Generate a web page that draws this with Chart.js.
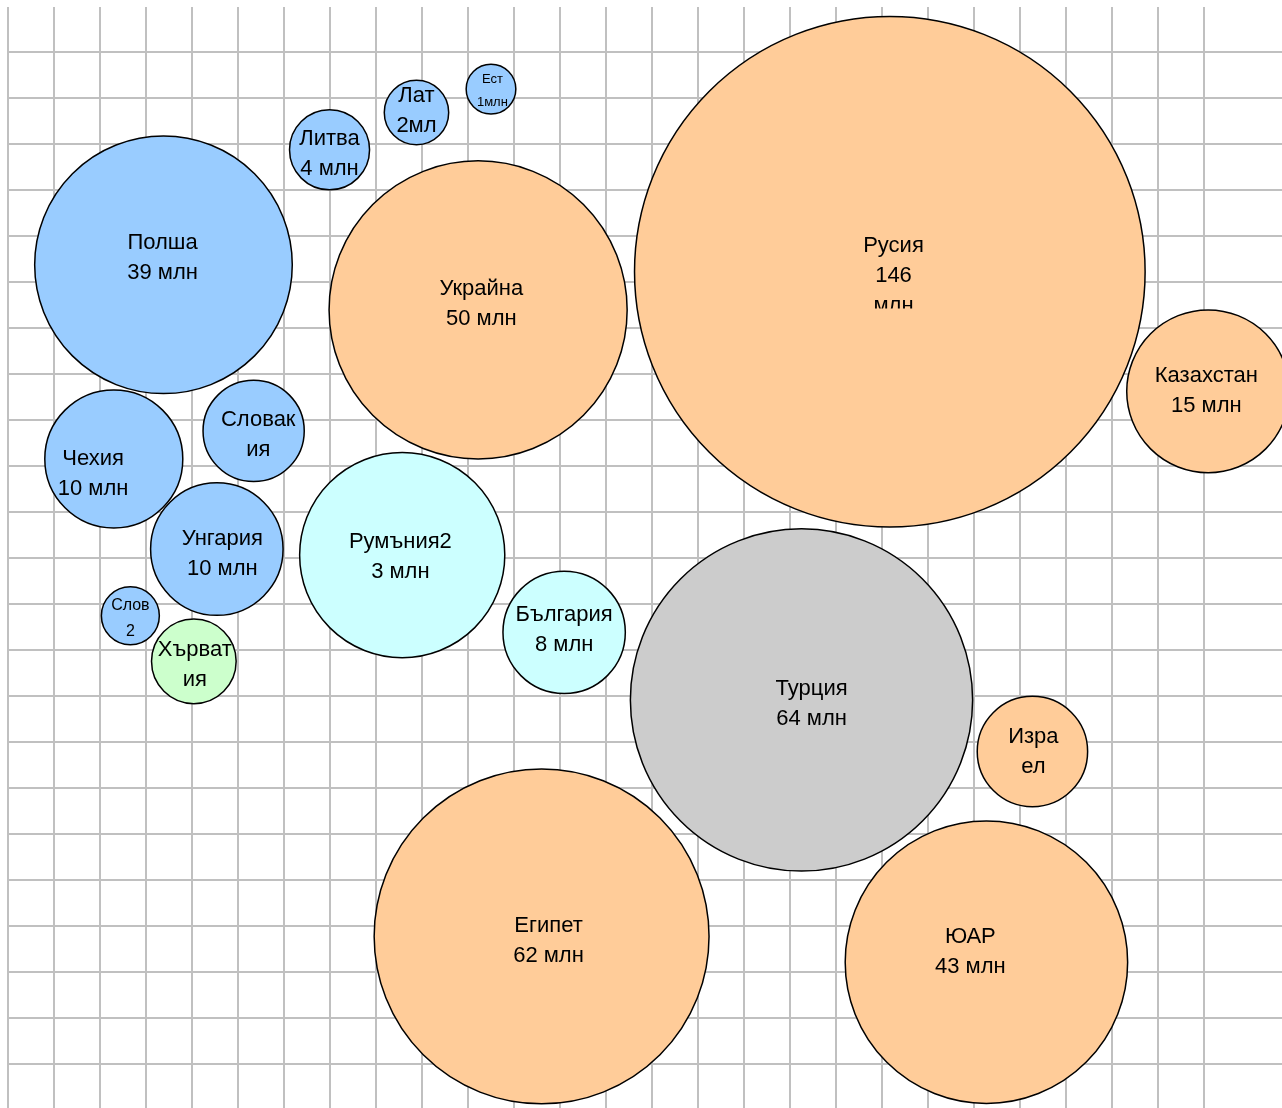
<!DOCTYPE html>
<html lang="bg">
<head>
<meta charset="utf-8">
<title>Население</title>
<script src="https://cdn.jsdelivr.net/npm/chart.js@4.4.1/dist/chart.umd.min.js"></script>
<style>
    html, body { margin: 0; padding: 0; background: #fff; overflow: hidden; }
    #wrap { position: relative; width: 1282px; height: 1108px; }
</style>
</head>
<body>
<div id="wrap"><canvas id="bubbles"></canvas></div>
<script>
// =========================
// DADOS
// =========================
const countries = [
    'Полша', 'Литва', 'Лат', 'Ест', 'Украйна', 'Русия',
    'Чехия', 'Словакия', 'Унгария', 'Слов', 'Хърватия',
    'Румъния', 'България', 'Казахстан', 'Турция', 'Израел',
    'Египет', 'ЮАР'
];

// население, млн
const population = [39, 4, 2, 1, 50, 146, 10, 5, 10, 2, 4, 3, 8, 15, 64, 9, 62, 43];

// център на кръга, в клетки на мрежата
const posX = [3.38, 6.99, 8.88, 10.50, 10.22, 19.17, 2.30, 5.34, 4.54, 2.66, 4.04, 8.57, 12.09, 26.09, 17.25, 22.27, 11.60, 21.27];
const posY = [4.62, 2.12, 1.31, 0.80, 5.60, 4.77, 8.84, 8.23, 10.80, 12.25, 13.24, 10.93, 12.61, 7.37, 14.08, 15.20, 19.22, 19.78];

// радиус, в клетки на мрежата
const size = [2.80, 0.87, 0.70, 0.54, 3.24, 5.55, 1.50, 1.10, 1.44, 0.63, 0.92, 2.23, 1.33, 1.77, 3.72, 1.20, 3.64, 3.07];

const labelLines = [
    ['Полша', '39 млн'],
    ['Литва', '4 млн'],
    ['Лат', '2мл'],
    ['Ест', '1млн'],
    ['Украйна', '50 млн'],
    ['Русия', '146', 'млн'],
    ['Чехия', '10 млн'],
    ['Словак', 'ия'],
    ['Унгария', '10 млн'],
    ['Слов', '2'],
    ['Хърват', 'ия'],
    ['Румъния2', '3 млн'],
    ['България', '8 млн'],
    ['Казахстан', '15 млн'],
    ['Турция', '64 млн'],
    ['Изра', 'ел'],
    ['Египет', '62 млн'],
    ['ЮАР', '43 млн']
];

// отместване на надписа спрямо центъра, в клетки
const labelShiftX = [-0.02, 0, 0, 0.03, 0.07, 0.08, -0.45, 0.10, 0.12, 0, 0.02, -0.04, 0, -0.04, 0.22, 0.02, 0.15, -0.35];
const labelShiftY = [-0.14, 0.10, -0.03, 0.03, -0.13, 0.10, 0.33, 0.09, 0.11, 0.05, 0.08, 0.04, -0.05, 0, 0.09, 0, 0.10, -0.22];

const groups = [
    'blue', 'blue', 'blue', 'blue', 'orange', 'orange',
    'blue', 'blue', 'blue', 'blue', 'green',
    'cyan', 'cyan', 'orange', 'gray', 'orange',
    'orange', 'orange'
];

// ========================
// СТИЛ
// ========================
const groupColors = {
    blue: '#99ccff',
    orange: '#ffcc99',
    cyan: '#ccffff',
    green: '#ccffcc',
    gray: '#cccccc'
};

// [размер на шрифта, междуредие]
const labelFonts = {
    'Ест': [13, 23],
    'Слов': [16, 26]
};

const CELL = 46;
const W = 1282, H = 1108, PAD_L = 8, PAD_T = 7;

// само цели стойности -> линии на мрежата
function keepWhole(axis) {
    axis.ticks = axis.ticks.filter(t => Number.isInteger(t.value));
}

function cellsToPx(chart, v) {
    const sx = chart.scales.x;
    return sx.getPixelForValue(v) - sx.getPixelForValue(0);
}

// ========================
// НАДПИСИ
// ========================
const bubbleLabels = {
    id: 'bubbleLabels',
    afterDatasetsDraw(chart) {

        const ctx = chart.ctx;
        const meta = chart.getDatasetMeta(0);

        meta.data.forEach((pt, i) => {

            const [fs, lh] = labelFonts[countries[i]] || [22, 30];
            const lines = labelLines[i];

            const cx = pt.x + cellsToPx(chart, labelShiftX[i]);
            const cy = pt.y + cellsToPx(chart, labelShiftY[i]);

            // текстовото поле отрязва отдолу
            const half = lh * 1.07;

            ctx.save();
            ctx.beginPath();
            ctx.rect(cx - 200, cy - 200, 400, 200 + half);
            ctx.clip();

            ctx.font = `${fs}px "Liberation Sans", Arial, sans-serif`;
            ctx.fillStyle = '#000';
            ctx.textAlign = 'center';
            ctx.textBaseline = 'middle';

            lines.forEach((t, k) => {
                ctx.fillText(t, cx, cy + (k - (lines.length - 1) / 2) * lh);
            });

            ctx.restore();
        });
    }
};

// ========================
// ГРАФИКА
// ========================
const points = countries.map((name, i) => ({
    x: posX[i],
    y: posY[i],
    r: 0,
    pop: population[i]
}));

const gridStyle = {
    color: '#c0c0c0',
    lineWidth: 2,
    drawTicks: false
};

const chart = new Chart(document.getElementById('bubbles'), {
    type: 'bubble',
    data: {
        labels: countries,
        datasets: [{
            data: points,
            backgroundColor: groups.map(g => groupColors[g]),
            borderColor: '#000',
            borderWidth: 1.5,
            hoverRadius: 0,
            hoverBorderWidth: 1.5
        }]
    },
    options: {
        responsive: true,
        maintainAspectRatio: false,
        animation: false,
        events: [],
        layout: {
            autoPadding: false,
            padding: { left: PAD_L, top: PAD_T, right: 0, bottom: 0 }
        },
        plugins: {
            legend: { display: false },
            tooltip: { enabled: false }
        },
        scales: {
            x: {
                type: 'linear',
                min: 0,
                max: (W - PAD_L) / CELL,
                ticks: { display: false, stepSize: 1 },
                afterBuildTicks: keepWhole,
                grid: gridStyle,
                border: { display: false }
            },
            y: {
                type: 'linear',
                reverse: true,
                min: -45.3 / CELL,
                max: -45.3 / CELL + (H - PAD_T) / CELL,
                ticks: { display: false, stepSize: 1 },
                afterBuildTicks: keepWhole,
                grid: gridStyle,
                border: { display: false }
            }
        }
    },
    plugins: [bubbleLabels]
});

// радиусът се мери по оста x, след като скалата е готова
points.forEach((p, i) => {
    p.r = cellsToPx(chart, size[i]);
});
chart.update();
</script>
</body>
</html>
